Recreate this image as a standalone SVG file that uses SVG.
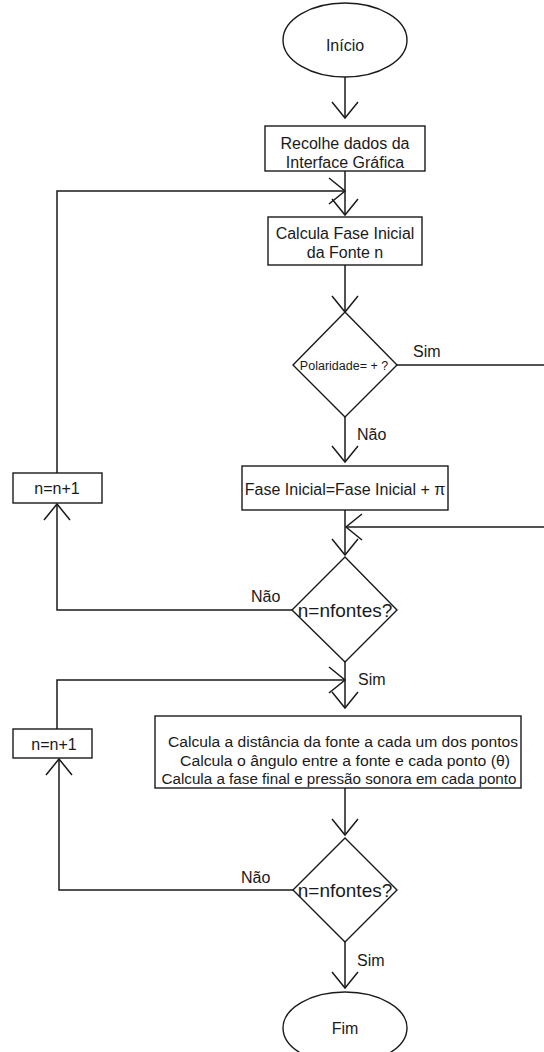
<svg xmlns="http://www.w3.org/2000/svg" width="544" height="1052" viewBox="0 0 544 1052">
<style>
.s{fill:#fff;stroke:#1a1a1a;stroke-width:1.4}
.c{fill:none;stroke:#1a1a1a;stroke-width:1.5}
text{font-family:"Liberation Sans",Arial,sans-serif;font-size:16px;fill:#1a1a1a}
.m{text-anchor:middle}
.b{font-size:15.5px}
</style>
<defs>
<marker id="ah" markerUnits="userSpaceOnUse" markerWidth="40" markerHeight="40" viewBox="-20 -20 40 40" refX="0" refY="0" orient="auto">
<path d="M-16,-13 L0,0 L-16,13" fill="none" stroke="#1a1a1a" stroke-width="1.5"/>
</marker>
</defs>
<rect width="544" height="1052" fill="#fff"/>
<g id="connectors">
<line class="c" x1="345" y1="77" x2="345" y2="118" marker-end="url(#ah)"/>
<line class="c" x1="345" y1="171" x2="345" y2="215" marker-end="url(#ah)"/>
<polyline class="c" points="57,473 57,191 345,191" marker-end="url(#ah)"/>
<line class="c" x1="345" y1="265" x2="345" y2="312" marker-end="url(#ah)"/>
<line class="c" x1="397" y1="365" x2="544" y2="365"/>
<line class="c" x1="345" y1="417" x2="345" y2="462" marker-end="url(#ah)"/>
<line class="c" x1="345" y1="510" x2="345" y2="555" marker-end="url(#ah)"/>
<line class="c" x1="544" y1="527" x2="346" y2="527" marker-end="url(#ah)"/>
<polyline class="c" points="292,610 57,610 57,504" marker-end="url(#ah)"/>
<line class="c" x1="345" y1="662" x2="345" y2="708" marker-end="url(#ah)"/>
<polyline class="c" points="57,729 57,680 345,680" marker-end="url(#ah)"/>
<line class="c" x1="345" y1="788" x2="345" y2="835" marker-end="url(#ah)"/>
<polyline class="c" points="293,890 59,890 59,759" marker-end="url(#ah)"/>
<line class="c" x1="345" y1="942" x2="345" y2="988" marker-end="url(#ah)"/>
<text x="413" y="357">Sim</text>
<text x="357" y="440">Não</text>
<text x="251" y="602">Não</text>
<text x="358" y="685">Sim</text>
<text x="241" y="883">Não</text>
<text x="357" y="966">Sim</text>
</g>
<g id="inicio">
<ellipse class="s" cx="345" cy="40" rx="62" ry="37"/>
<text class="m" x="345" y="51">Início</text>
</g>
<g id="recolhe">
<rect class="s" x="265" y="126" width="160" height="45"/>
<text class="m" x="345" y="149">Recolhe dados da</text>
<text class="m" x="345" y="168">Interface Gráfica</text>
</g>
<g id="calcula-fase">
<rect class="s" x="268" y="217" width="154" height="48"/>
<text class="m" x="345" y="239">Calcula Fase Inicial</text>
<text class="m" x="345" y="258">da Fonte n</text>
</g>
<g id="polaridade">
<polygon class="s" points="345,312 397,365 345,417 293,365"/>
<text class="m" x="344" y="370" style="font-size:12.5px">Polaridade= + ?</text>
</g>
<g id="fase-pi">
<rect class="s" x="242" y="466" width="206" height="44"/>
<text class="m" x="345" y="495">Fase Inicial=Fase Inicial + π</text>
</g>
<g id="inc1">
<rect class="s" x="13" y="473" width="89" height="30"/>
<text class="m" x="57" y="494">n=n+1</text>
</g>
<g id="nfontes1">
<polygon class="s" points="345,557 397,610 345,662 292,610"/>
<text class="m" x="345" y="617" style="font-size:19px">n=nfontes?</text>
</g>
<g id="calcula-dist">
<rect class="s" x="155" y="716" width="366" height="72"/>
<text class="m b" x="343" y="747" textLength="350" lengthAdjust="spacingAndGlyphs">Calcula a distância da fonte a cada um dos pontos</text>
<text class="m b" x="345" y="766" textLength="330" lengthAdjust="spacingAndGlyphs">Calcula o ângulo entre a fonte e cada ponto (θ)</text>
<text class="m b" x="339" y="784" textLength="355" lengthAdjust="spacingAndGlyphs">Calcula a fase final e pressão sonora em cada ponto</text>
</g>
<g id="inc2">
<rect class="s" x="13" y="729" width="79" height="29"/>
<text class="m" x="54" y="750">n=n+1</text>
</g>
<g id="nfontes2">
<polygon class="s" points="345,838 397,890 345,942 293,890"/>
<text class="m" x="345" y="897" style="font-size:19px">n=nfontes?</text>
</g>
<g id="fim">
<ellipse class="s" cx="345" cy="1028" rx="62" ry="36"/>
<text class="m" x="345" y="1034">Fim</text>
</g>
</svg>
